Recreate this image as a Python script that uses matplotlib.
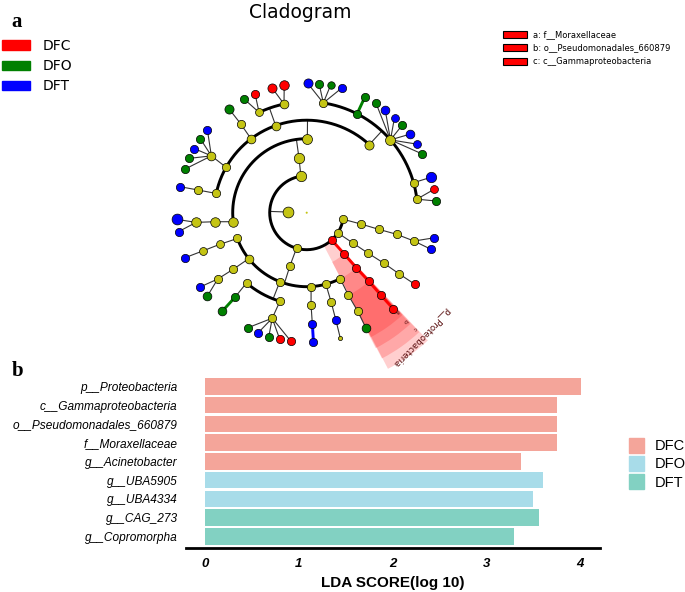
import numpy as np
import matplotlib
matplotlib.use('Agg')
import matplotlib.pyplot as plt
from matplotlib.patches import Patch

# ---------------- cladogram (panel a) ----------------
# internal nodes: (name, parent, angle in degrees, group, relative abundance)
# group: n = not significant, C = DFC, O = DFO, T = DFT
tree_nodes = [
    ('root', None, 0.0, 'n', 0.25),
    ('k', 'root', 178.0, 'n', 1.3),
    # phyla
    ('p1', 'k', 99.0, 'n', 1.25), ('p2', 'k', 254.0, 'n', 1.0),
    ('p3', 'k', 312.5, 'C', 1.0), ('p4', 'k', 327.0, 'n', 1.0),
    ('p5', 'k', 349.8, 'n', 1.0),
    # classes
    ('c1', 'p1', 98.0, 'n', 1.25), ('c2', 'p2', 252.5, 'n', 1.0),
    ('c3', 'p3', 312.3, 'C', 1.0), ('c4', 'p4', 326.7, 'n', 1.0),
    ('c5', 'p5', 348.2, 'n', 1.0),
    # orders
    ('o1', 'c1', 89.5, 'n', 1.2), ('o2', 'c1', 187.0, 'n', 1.15),
    ('o3', 'c2', 200.4, 'n', 1.0), ('o4', 'c2', 218.4, 'n', 1.05),
    ('o5', 'c2', 248.7, 'n', 1.0), ('o6', 'c2', 273.4, 'n', 1.0),
    ('o7', 'c2', 285.0, 'n', 1.0), ('o8', 'c2', 296.9, 'n', 1.0),
    ('o9', 'c3', 312.0, 'C', 1.0), ('o10', 'c4', 326.6, 'n', 1.0),
    ('o11', 'c5', 347.0, 'n', 1.0),
    # families
    ('f1', 'o1', 47.4, 'n', 1.1), ('f2', 'o1', 109.6, 'n', 1.05),
    ('f3', 'o1', 127.0, 'n', 1.05), ('f4', 'o1', 150.6, 'n', 1.0),
    ('f5', 'o1', 168.0, 'n', 1.0), ('f6', 'o2', 185.6, 'n', 1.15),
    ('f7', 'o3', 200.0, 'n', 0.95), ('f8', 'o4', 217.6, 'n', 1.0),
    ('f9', 'o5', 229.4, 'n', 1.0), ('f10', 'o5', 253.2, 'n', 1.0),
    ('f11', 'o6', 272.7, 'n', 1.0), ('f12', 'o7', 285.3, 'n', 1.0),
    ('f13', 'o8', 296.8, 'n', 1.0), ('f14', 'o9', 312.2, 'C', 1.0),
    ('f15', 'o10', 326.8, 'n', 1.0), ('f16', 'o11', 346.5, 'n', 1.0),
    # genera
    ('g1', 'f1', 81.4, 'n', 1.0), ('g2', 'f1', 63.0, 'O', 1.0),
    ('g3', 'f1', 41.0, 'n', 1.2), ('g4', 'f1', 15.7, 'n', 1.0),
    ('g5', 'f1', 7.0, 'n', 1.0), ('g6', 'f2', 115.4, 'n', 0.95),
    ('g7', 'f2', 101.8, 'n', 1.05), ('g8', 'f3', 126.6, 'n', 1.0),
    ('g9', 'f4', 149.2, 'n', 1.05), ('g10', 'f5', 168.2, 'n', 1.0),
    ('g11', 'f6', 185.0, 'n', 1.15), ('g12', 'f7', 200.2, 'n', 0.95),
    ('g13', 'f8', 216.7, 'n', 1.0), ('g14', 'f9', 229.7, 'O', 1.0),
    ('g15', 'f10', 251.9, 'n', 1.0), ('g16', 'f11', 272.9, 'T', 1.0),
    ('g17', 'f12', 285.2, 'T', 1.0), ('g18', 'f13', 297.4, 'n', 1.0),
    ('g19', 'f14', 312.0, 'C', 1.0), ('g20', 'f15', 326.5, 'n', 1.0),
    ('g21', 'f16', 345.2, 'n', 1.0),
]

# leaves: (parent genus, angle in degrees, group, relative abundance)
tree_leaves = [
    ('g1', 89.6, 'T', 1.1), ('g1', 84.5, 'O', 1.0), ('g1', 79.4, 'O', 0.9),
    ('g1', 74.3, 'T', 1.0),
    ('g2', 63.3, 'O', 1.0),
    ('g3', 57.6, 'O', 1.0), ('g3', 52.7, 'T', 1.05), ('g3', 47.3, 'T', 0.95),
    ('g3', 42.5, 'O', 1.0), ('g3', 37.3, 'T', 1.05), ('g3', 32.0, 'T', 0.95),
    ('g3', 27.0, 'O', 1.0),
    ('g4', 15.9, 'T', 1.25),
    ('g5', 10.4, 'C', 0.95), ('g5', 5.2, 'O', 1.0),
    ('g6', 118.8, 'O', 1.0), ('g6', 113.5, 'C', 1.0),
    ('g7', 105.5, 'C', 1.1), ('g7', 100.0, 'C', 1.15),
    ('g8', 126.8, 'O', 1.1),
    ('g9', 140.1, 'T', 1.0), ('g9', 145.2, 'O', 1.0), ('g9', 150.3, 'T', 1.0),
    ('g9', 155.2, 'O', 1.0), ('g9', 160.4, 'O', 1.0),
    ('g10', 168.4, 'T', 1.0),
    ('g11', 183.0, 'T', 1.3), ('g11', 188.4, 'T', 1.0),
    ('g12', 200.3, 'T', 1.0),
    ('g13', 214.9, 'T', 1.0), ('g13', 220.0, 'O', 1.05),
    ('g14', 229.4, 'O', 1.05),
    ('g15', 242.8, 'O', 1.0), ('g15', 248.0, 'T', 1.0), ('g15', 253.0, 'O', 1.0),
    ('g15', 258.0, 'C', 1.0), ('g15', 263.0, 'C', 1.0),
    ('g16', 273.0, 'T', 1.0),
    ('g17', 285.0, 'n', 0.5),
    ('g18', 297.2, 'O', 1.05),
    ('g19', 312.0, 'C', 1.0),
    ('g20', 326.5, 'C', 1.0),
    ('g21', 348.8, 'T', 1.0), ('g21', 343.6, 'T', 1.0),
]

# highlighted clades: (node, letter shown in the cladogram, legend text)
hl_clades = [
    ('p3', 'p__Proteobacteria', None),
    ('c3', 'c', 'c__Gammaproteobacteria'),
    ('o9', 'b', 'o__Pseudomonadales_660879'),
    ('f14', 'a', 'f__Moraxellaceae'),
]

groups = ['DFC', 'DFO', 'DFT']
clado_colors = {'C': '#ff0000', 'O': '#008000', 'T': '#0000ff', 'n': '#c4c414'}

# ---------------- LDA bars (panel b) ----------------
lda_names = ['p__Proteobacteria', 'c__Gammaproteobacteria',
             'o__Pseudomonadales_660879', 'f__Moraxellaceae',
             'g__Acinetobacter', 'g__UBA5905', 'g__UBA4334',
             'g__CAG_273', 'g__Copromorpha']
lda_scores = [4.01, 3.75, 3.75, 3.75, 3.37, 3.60, 3.50, 3.56, 3.29]
lda_group = ['DFC', 'DFC', 'DFC', 'DFC', 'DFC', 'DFO', 'DFO', 'DFT', 'DFT']
bar_colors = {'DFC': '#f4a59a', 'DFO': '#a8dce9', 'DFT': '#82d1c2'}


W, H = 685, 592
fig = plt.figure(figsize=(W / 100, H / 100), dpi=100)

# polar axes centred on the cladogram root
cx, cy, R0 = 306.7, 212.7, 185.0
pax = fig.add_axes([(cx - R0) / W, (H - cy - R0) / H, 2 * R0 / W, 2 * R0 / H],
                   projection='polar')
pax.set_rlim(0, R0)
pax.set_axis_off()

STEP = 18.5   # radial distance between taxonomic levels (px)
info = {}
for name, parent, ang, grp, ab in tree_nodes:
    info[name] = dict(parent=parent, ang=ang, grp=grp, ab=ab)
for i, (parent, ang, grp, ab) in enumerate(tree_leaves):
    info['s%d' % i] = dict(parent=parent, ang=ang, grp=grp, ab=ab)

children = {n: [] for n in info}
for n, d in info.items():
    if d['parent'] is not None:
        children[d['parent']].append(n)


def depth(n):
    p = info[n]['parent']
    return 0 if p is None else depth(p) + 1


for n in info:
    info[n]['r'] = STEP * depth(n)
    info[n]['t'] = np.deg2rad(info[n]['ang'])

THICK, THIN = 2.1, 0.8


def edge(a, b):
    da, db = info[a], info[b]
    same = da['grp'] == db['grp'] and da['grp'] != 'n'
    pax.plot([da['t'], db['t']], [da['r'], db['r']],
             color=clado_colors[da['grp']] if same else '#333333',
             lw=THICK if same else THIN, zorder=2, solid_capstyle='round')


for p, kids in children.items():
    if not kids or p == 'root':
        continue
    leafy = all(not children[k] for k in kids)
    if len(kids) == 1 or leafy:
        for k in kids:
            edge(p, k)
        continue
    dp = info[p]
    rc = info[kids[0]]['r']
    pax.plot([dp['t'], dp['t']], [dp['r'], rc], color='#333333', lw=THIN, zorder=2)
    angs = [info[k]['ang'] for k in kids] + [dp['ang']]
    th = np.deg2rad(np.linspace(min(angs), max(angs), 200))
    pax.plot(th, np.full_like(th, rc), color='black', lw=THICK, zorder=2,
             solid_capstyle='round')

# nodes
for n, d in info.items():
    diam = 8.3 * d['ab'] * 0.72
    pax.scatter([d['t']], [d['r']], s=diam ** 2, c=clado_colors[d['grp']],
                edgecolors='black' if n != 'root' else 'none',
                linewidths=0.5, zorder=3)

# clade highlighting wedges
R_OUT = 176.0
for i, (n, lab, _) in enumerate(hl_clades):
    d = info[n]
    r_out = R_OUT - 12 * i
    t0 = np.deg2rad(d['ang'] - 15.0)
    pax.bar(t0, r_out - d['r'], width=np.deg2rad(16.0), bottom=d['r'],
            align='edge', color='red', alpha=0.19, linewidth=0, zorder=1)
    if i == 0:
        pax.text(d['t'], r_out - 7, lab, fontsize=6.3, color='#5a1010',
                 rotation=d['ang'] - 87, ha='center', va='center',
                 rotation_mode='anchor', zorder=4)
    else:
        pax.text(np.deg2rad(d['ang'] + 0.5), r_out - 6, lab, fontsize=4.5,
                 color='#5a1010', rotation=d['ang'] - 87, ha='center',
                 va='center', rotation_mode='anchor', zorder=4)

fig.text(300 / W, 1 - 12 / H, 'Cladogram', fontsize=13.5, ha='center',
         va='center')

# group legend, top left
fig.legend([Patch(color=clado_colors[g]) for g in 'COT'], groups,
           loc='upper left', bbox_to_anchor=(0.003, 1 - 39 / H),
           frameon=False, fontsize=10, handlelength=2.0,
           handleheight=0.68, handletextpad=0.9, labelspacing=0.45,
           borderpad=0, borderaxespad=0)

# letter legend, top right
letters = [(lab, txt) for _, lab, txt in hl_clades if txt is not None][::-1]
fig.legend([Patch(facecolor='red', edgecolor='black', lw=0.8)
            for _ in letters],
           ['%s: %s' % (l, t) for l, t in letters],
           loc='upper left', bbox_to_anchor=(503 / W, 1 - 30 / H),
           frameon=False, fontsize=6, handlelength=2.9,
           handleheight=0.9, handletextpad=0.7, labelspacing=0.55,
           borderpad=0, borderaxespad=0)

fig.text(16.5 / W, 1 - 22 / H, 'a', fontsize=15, fontweight='bold',
         family='Liberation Serif', ha='center', va='center')
fig.text(17.5 / W, 1 - 371 / H, 'b', fontsize=15, fontweight='bold',
         family='Liberation Serif', ha='center', va='center')

# ---------------- panel b ----------------
bax = fig.add_axes([186.4 / W, (H - 548.3) / H, 413.6 / W, 173.25 / H])
bax.patch.set_alpha(0)
y = np.arange(len(lda_names))
bax.barh(y, lda_scores, height=0.88,
         color=[bar_colors[g] for g in lda_group], linewidth=0)
bax.set_ylim(8.64, -0.6)
bax.set_xlim(-0.196, 4.21)
for s in ('left', 'top', 'right'):
    bax.spines[s].set_visible(False)
bax.spines['bottom'].set_linewidth(2.0)
bax.tick_params(length=0)
bax.set_yticks(y)
bax.set_yticklabels(lda_names, fontsize=8.6, fontstyle='italic',
                    family='Liberation Sans')
bax.tick_params(axis='y', pad=6.3)
bax.set_xticks(range(5))
bax.set_xticklabels([str(v) for v in range(5)], fontsize=9.5,
                    fontstyle='italic', fontweight='bold',
                    family='Liberation Sans')
bax.tick_params(axis='x', pad=7)
bax.set_xlabel('LDA SCORE(log 10)', fontsize=11, fontweight='bold',
               family='Liberation Sans', labelpad=4)

fig.legend([Patch(color=bar_colors[g]) for g in groups], groups,
           loc='upper left', bbox_to_anchor=(629 / W, 1 - 438 / H),
           frameon=False, prop={'family': 'Liberation Sans', 'size': 10.5},
           handlelength=1.05, handleheight=1.17, handletextpad=0.75,
           labelspacing=0.2, borderpad=0, borderaxespad=0)

fig.savefig('out.png', dpi=100)
